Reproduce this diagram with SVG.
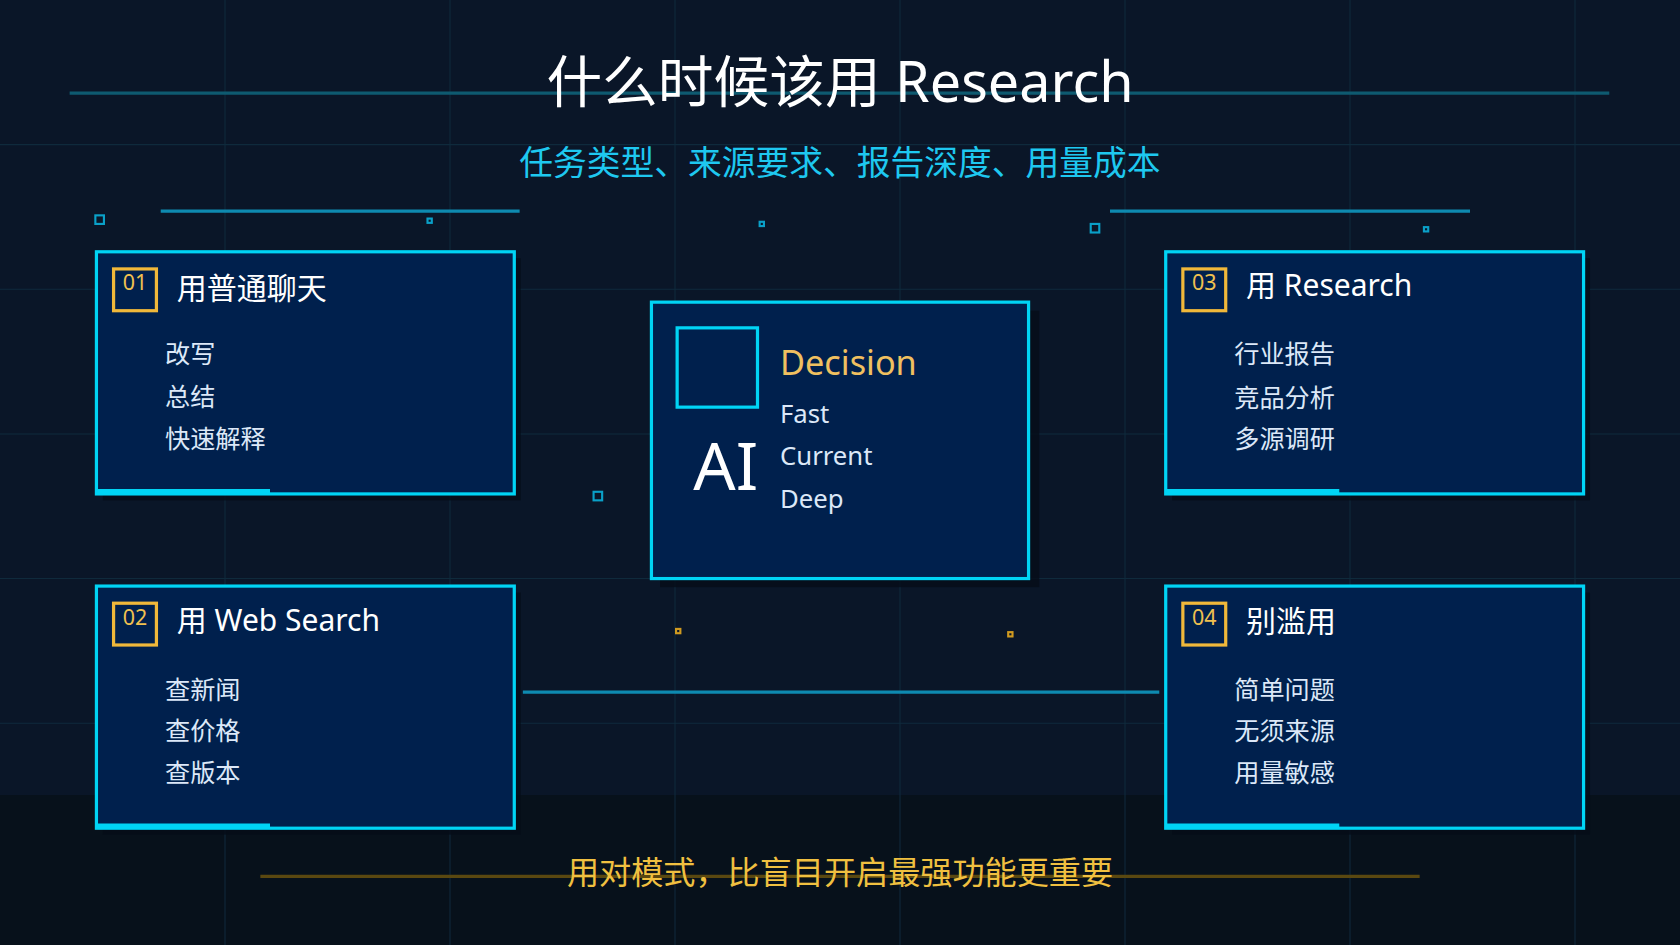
<svg xmlns="http://www.w3.org/2000/svg" width="1680" height="945" viewBox="0 0 1680 945">
<defs>
<style>
.t{font-family:"Noto Sans","Noto Sans CJK SC",sans-serif}
.box{fill:#00204d;stroke:#00d4f5;stroke-width:3}
.sh{fill:#050d18;opacity:.8}
.badge{fill:none;stroke:#f0b83a;stroke-width:3}
.num{fill:#f0c050;font-size:20px}
.hd{fill:#ffffff;font-size:28px}
.it{fill:#dce8f8;font-size:23.5px}
.g{stroke:#0f2a3c;stroke-width:1}
.dot{fill:none;stroke:#0aa0c8;stroke-width:2}
.dotg{fill:none;stroke:#d09a20;stroke-width:2}
.bl{stroke:#00d4f5;stroke-width:5}
</style>
</defs>
<rect width="1680" height="945" fill="#0a1628"/>
<g transform="scale(1.07143)">
<rect x="0" y="742" width="1568" height="140" fill="#07111b"/>
<g id="grid">
<line class="g" x1="210" y1="0" x2="210" y2="882"/><line class="g" x1="420" y1="0" x2="420" y2="882"/><line class="g" x1="630" y1="0" x2="630" y2="882"/><line class="g" x1="840" y1="0" x2="840" y2="882"/><line class="g" x1="1050" y1="0" x2="1050" y2="882"/><line class="g" x1="1260" y1="0" x2="1260" y2="882"/><line class="g" x1="1470" y1="0" x2="1470" y2="882"/>
<line class="g" x1="0" y1="135" x2="1568" y2="135"/><line class="g" x1="0" y1="270" x2="1568" y2="270"/><line class="g" x1="0" y1="405" x2="1568" y2="405"/><line class="g" x1="0" y1="540" x2="1568" y2="540"/><line class="g" x1="0" y1="675" x2="1568" y2="675"/>
</g>
<line x1="65" y1="87" x2="1502" y2="87" stroke="#0e5a70" stroke-width="3"/>
<text class="t" x="784" y="95" text-anchor="middle" fill="#ffffff" font-size="52">什么时候该用 Research</text>
<text class="t" x="784" y="163" text-anchor="middle" fill="#1ec8f0" font-size="31.5">任务类型、来源要求、报告深度、用量成本</text>
<g id="connectors" stroke="#0e8ab0" stroke-width="3">
<line x1="150" y1="197" x2="485" y2="197"/>
<line x1="1036" y1="197" x2="1372" y2="197"/>
<line x1="488" y1="646" x2="1082" y2="646"/>
<line x1="243" y1="818" x2="1325" y2="818" stroke="#5a4810"/>
</g>
<g id="dots">
<rect class="dot" x="89" y="201" width="8" height="8"/><rect class="dot" x="399" y="204" width="4" height="4"/><rect class="dot" x="709" y="207" width="4" height="4"/><rect class="dot" x="1018" y="209" width="8" height="8"/><rect class="dot" x="1329" y="212" width="4" height="4"/><rect class="dot" x="554" y="459" width="8" height="8"/>
<rect class="dotg" x="631" y="587" width="4" height="4"/><rect class="dotg" x="941" y="590" width="4" height="4"/>
</g>
<g id="n1">
<rect class="sh" x="96" y="241" width="390" height="226"/>
<rect class="box" x="90" y="235" width="390" height="226"/>
<line class="bl" x1="90" y1="459" x2="252" y2="459"/>
<rect class="badge" x="106" y="251" width="40" height="39"/>
<text class="t num" x="126" y="271" text-anchor="middle">01</text>
<text class="t hd" x="165" y="279">用普通聊天</text>
<text class="t it" x="154" y="339">改写</text><text class="t it" x="154" y="379">总结</text><text class="t it" x="154" y="418">快速解释</text>
</g>
<g id="n2">
<rect class="sh" x="96" y="553" width="390" height="226"/>
<rect class="box" x="90" y="547" width="390" height="226"/>
<line class="bl" x1="90" y1="771" x2="252" y2="771"/>
<rect class="badge" x="106" y="563" width="40" height="39"/>
<text class="t num" x="126" y="583" text-anchor="middle">02</text>
<text class="t hd" x="165" y="589">用 Web Search</text>
<text class="t it" x="154" y="652">查新闻</text><text class="t it" x="154" y="691">查价格</text><text class="t it" x="154" y="730">查版本</text>
</g>
<g id="n3">
<rect class="sh" x="1094" y="241" width="390" height="226"/>
<rect class="box" x="1088" y="235" width="390" height="226"/>
<line class="bl" x1="1088" y1="459" x2="1250" y2="459"/>
<rect class="badge" x="1104" y="251" width="40" height="39"/>
<text class="t num" x="1124" y="271" text-anchor="middle">03</text>
<text class="t hd" x="1163" y="276">用 Research</text>
<text class="t it" x="1152" y="339">行业报告</text><text class="t it" x="1152" y="380">竞品分析</text><text class="t it" x="1152" y="418">多源调研</text>
</g>
<g id="n4">
<rect class="sh" x="1094" y="553" width="390" height="226"/>
<rect class="box" x="1088" y="547" width="390" height="226"/>
<line class="bl" x1="1088" y1="771" x2="1250" y2="771"/>
<rect class="badge" x="1104" y="563" width="40" height="39"/>
<text class="t num" x="1124" y="583" text-anchor="middle">04</text>
<text class="t hd" x="1163" y="590">别滥用</text>
<text class="t it" x="1152" y="652">简单问题</text><text class="t it" x="1152" y="691">无须来源</text><text class="t it" x="1152" y="730">用量敏感</text>
</g>
<g id="center">
<rect class="sh" x="616" y="290" width="354" height="258"/>
<rect class="box" x="608" y="282" width="352" height="258"/>
<rect x="632" y="306" width="75" height="74" fill="none" stroke="#00d4f5" stroke-width="3"/>
<text class="t" x="728" y="350" fill="#f0c060" font-size="32">Decision</text>
<text class="t" x="728" y="395" fill="#dce8f8" font-size="24">Fast</text>
<text class="t" x="728" y="434" fill="#dce8f8" font-size="24">Current</text>
<text class="t" x="728" y="474" fill="#dce8f8" font-size="24">Deep</text>
<text class="t" x="647" y="457" fill="#ffffff" font-size="62">AI</text>
</g>
<text class="t" x="784" y="825" text-anchor="middle" fill="#f0c040" font-size="30">用对模式，比盲目开启最强功能更重要</text>
</g>
</svg>
